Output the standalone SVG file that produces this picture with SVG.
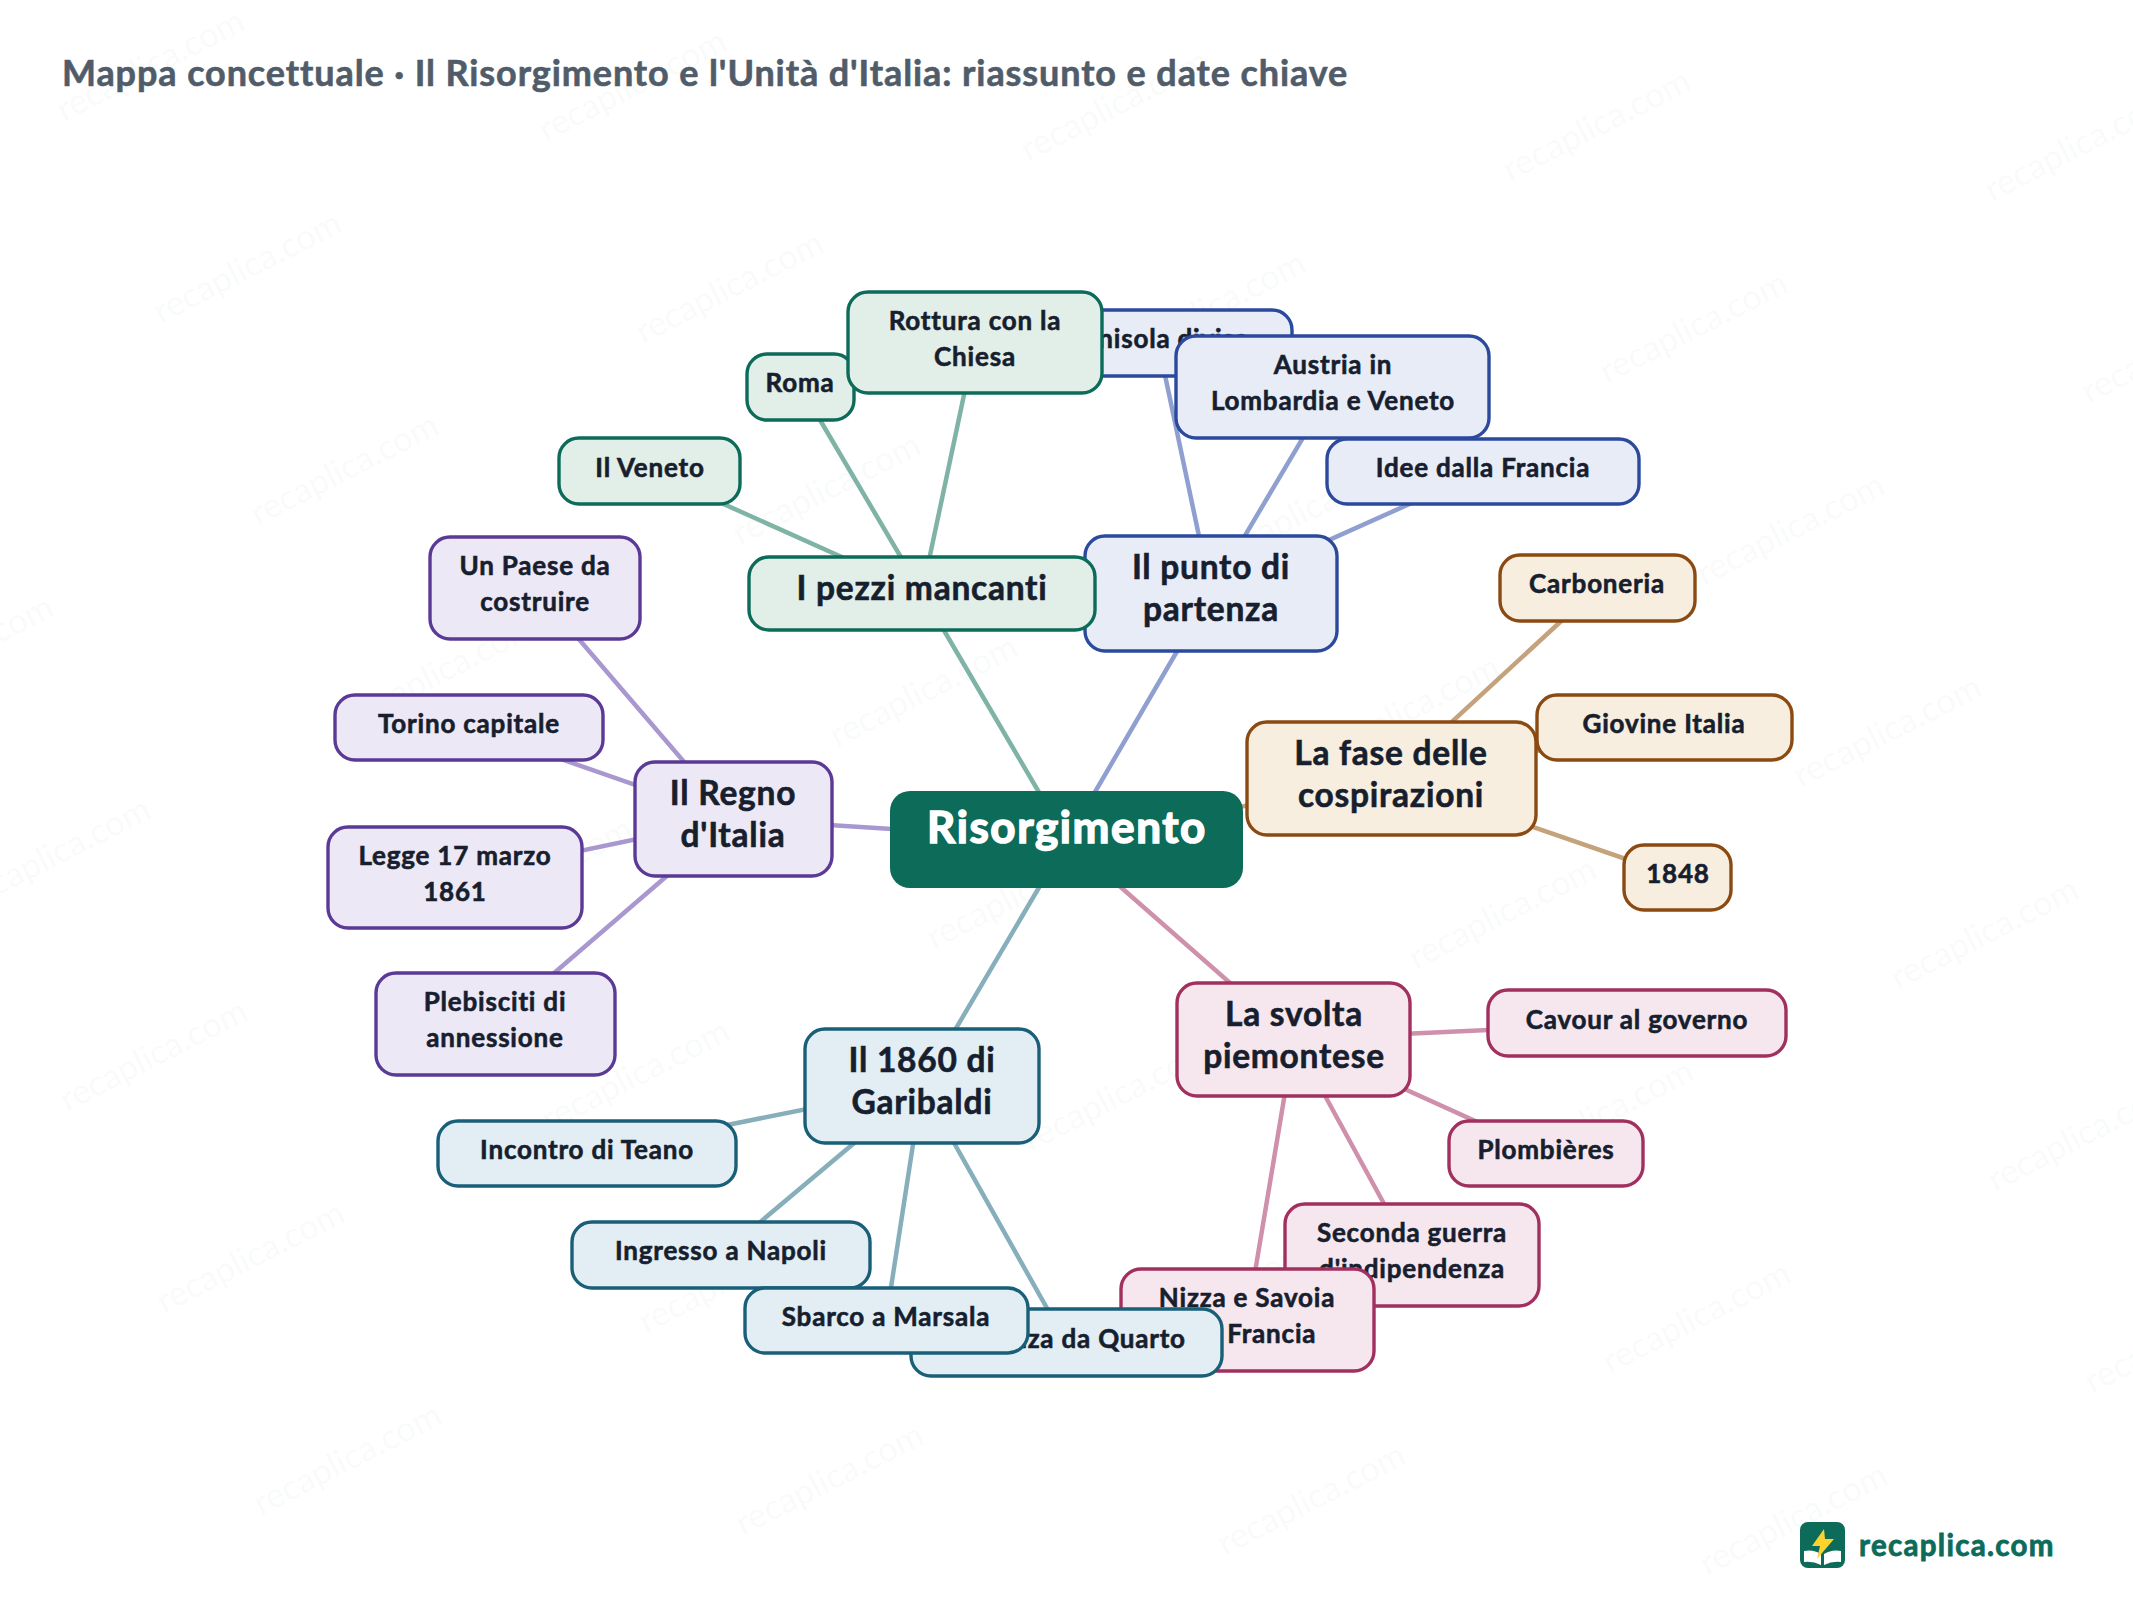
<svg xmlns="http://www.w3.org/2000/svg" width="2133" height="1600" viewBox="0 0 2133 1600">
<style>
text{font-family:"Lato","Noto Sans","Liberation Sans",sans-serif;font-weight:700;fill:#171e2e;text-anchor:middle;transform:translateY(1px)}
.wm{font-size:34.5px;font-weight:400;fill:#5b6b70;fill-opacity:.045;text-anchor:start;transform:none}
.title{font-size:36px;fill:#505c69;text-anchor:start;letter-spacing:.9px;stroke:#505c69;stroke-width:.6px}
.m{font-size:33.5px;letter-spacing:.75px;stroke:#171e2e;stroke-width:.6px}
.s{font-size:26px;letter-spacing:.8px;stroke:#171e2e;stroke-width:.6px}
.c{font-size:44px;letter-spacing:1.6px;fill:#fff;stroke:#fff;stroke-width:1.5px}
rect{stroke-width:3.4}
.green rect{fill:#e1efe8;stroke:#0d6b5a}.blue rect{fill:#e8ecf7;stroke:#2b4a9e}.brown rect{fill:#f7eedf;stroke:#8b4a12}
.pink rect{fill:#f6e7ef;stroke:#a1305f}.teal rect{fill:#e2eef4;stroke:#1a5f78}.purple rect{fill:#ede8f6;stroke:#5b3a96}
#connectors line{stroke-width:4.5;stroke-linecap:round}
.lg{stroke:#7fb3a6}.lb{stroke:#8f9fd0}.lr{stroke:#c4a27c}.lp{stroke:#cf90ac}.lt{stroke:#87aebb}.lv{stroke:#a997d0}
</style>
<rect width="2133" height="1600" fill="#fff" stroke="none"/>
<g id="watermark">
<g transform="translate(64 122) rotate(-27)"><text class="wm">recaplica.com</text></g>
<g transform="translate(546 142) rotate(-27)"><text class="wm">recaplica.com</text></g>
<g transform="translate(1028 162) rotate(-27)"><text class="wm">recaplica.com</text></g>
<g transform="translate(1510 182) rotate(-27)"><text class="wm">recaplica.com</text></g>
<g transform="translate(1992 202) rotate(-27)"><text class="wm">recaplica.com</text></g>
<g transform="translate(161 324) rotate(-27)"><text class="wm">recaplica.com</text></g>
<g transform="translate(643 344) rotate(-27)"><text class="wm">recaplica.com</text></g>
<g transform="translate(1125 364) rotate(-27)"><text class="wm">recaplica.com</text></g>
<g transform="translate(1607 384) rotate(-27)"><text class="wm">recaplica.com</text></g>
<g transform="translate(2089 404) rotate(-27)"><text class="wm">recaplica.com</text></g>
<g transform="translate(258 526) rotate(-27)"><text class="wm">recaplica.com</text></g>
<g transform="translate(740 546) rotate(-27)"><text class="wm">recaplica.com</text></g>
<g transform="translate(1222 566) rotate(-27)"><text class="wm">recaplica.com</text></g>
<g transform="translate(1704 586) rotate(-27)"><text class="wm">recaplica.com</text></g>
<g transform="translate(-127 708) rotate(-27)"><text class="wm">recaplica.com</text></g>
<g transform="translate(355 728) rotate(-27)"><text class="wm">recaplica.com</text></g>
<g transform="translate(837 748) rotate(-27)"><text class="wm">recaplica.com</text></g>
<g transform="translate(1319 768) rotate(-27)"><text class="wm">recaplica.com</text></g>
<g transform="translate(1801 788) rotate(-27)"><text class="wm">recaplica.com</text></g>
<g transform="translate(-30 910) rotate(-27)"><text class="wm">recaplica.com</text></g>
<g transform="translate(452 930) rotate(-27)"><text class="wm">recaplica.com</text></g>
<g transform="translate(934 950) rotate(-27)"><text class="wm">recaplica.com</text></g>
<g transform="translate(1416 970) rotate(-27)"><text class="wm">recaplica.com</text></g>
<g transform="translate(1898 990) rotate(-27)"><text class="wm">recaplica.com</text></g>
<g transform="translate(67 1112) rotate(-27)"><text class="wm">recaplica.com</text></g>
<g transform="translate(549 1132) rotate(-27)"><text class="wm">recaplica.com</text></g>
<g transform="translate(1031 1152) rotate(-27)"><text class="wm">recaplica.com</text></g>
<g transform="translate(1513 1172) rotate(-27)"><text class="wm">recaplica.com</text></g>
<g transform="translate(1995 1192) rotate(-27)"><text class="wm">recaplica.com</text></g>
<g transform="translate(164 1314) rotate(-27)"><text class="wm">recaplica.com</text></g>
<g transform="translate(646 1334) rotate(-27)"><text class="wm">recaplica.com</text></g>
<g transform="translate(1128 1354) rotate(-27)"><text class="wm">recaplica.com</text></g>
<g transform="translate(1610 1374) rotate(-27)"><text class="wm">recaplica.com</text></g>
<g transform="translate(2092 1394) rotate(-27)"><text class="wm">recaplica.com</text></g>
<g transform="translate(261 1516) rotate(-27)"><text class="wm">recaplica.com</text></g>
<g transform="translate(743 1536) rotate(-27)"><text class="wm">recaplica.com</text></g>
<g transform="translate(1225 1556) rotate(-27)"><text class="wm">recaplica.com</text></g>
<g transform="translate(1707 1576) rotate(-27)"><text class="wm">recaplica.com</text></g>
</g>
<text class="title" x="62" y="85">Mappa concettuale · Il Risorgimento e l'Unità d'Italia: riassunto e date chiave</text>
<g id="connectors">
<line class="lb" x1="1067" y1="840" x2="1211" y2="593"/>
<line class="lg" x1="1067" y1="840" x2="922" y2="593"/>
<line class="lr" x1="1067" y1="840" x2="1391" y2="778"/>
<line class="lp" x1="1067" y1="840" x2="1294" y2="1039"/>
<line class="lt" x1="1067" y1="840" x2="922" y2="1086"/>
<line class="lv" x1="1067" y1="840" x2="733" y2="819"/>
<line class="lb" x1="1211" y1="593" x2="1158" y2="342"/>
<line class="lb" x1="1211" y1="593" x2="1333" y2="387"/>
<line class="lb" x1="1211" y1="593" x2="1483" y2="471"/>
<line class="lg" x1="922" y1="593" x2="650" y2="471"/>
<line class="lg" x1="922" y1="593" x2="800" y2="386"/>
<line class="lg" x1="922" y1="593" x2="975" y2="343"/>
<line class="lr" x1="1391" y1="778" x2="1597" y2="588"/>
<line class="lr" x1="1391" y1="778" x2="1664" y2="727"/>
<line class="lr" x1="1391" y1="778" x2="1678" y2="877"/>
<line class="lp" x1="1294" y1="1039" x2="1637" y2="1023"/>
<line class="lp" x1="1294" y1="1039" x2="1546" y2="1153"/>
<line class="lp" x1="1294" y1="1039" x2="1412" y2="1255"/>
<line class="lp" x1="1294" y1="1039" x2="1247" y2="1320"/>
<line class="lt" x1="922" y1="1086" x2="587" y2="1153"/>
<line class="lt" x1="922" y1="1086" x2="721" y2="1255"/>
<line class="lt" x1="922" y1="1086" x2="886" y2="1320"/>
<line class="lt" x1="922" y1="1086" x2="1066" y2="1342"/>
<line class="lv" x1="733" y1="819" x2="535" y2="588"/>
<line class="lv" x1="733" y1="819" x2="469" y2="727"/>
<line class="lv" x1="733" y1="819" x2="455" y2="877"/>
<line class="lv" x1="733" y1="819" x2="495" y2="1024"/>
</g>
<g id="n-centro"><rect x="890" y="791" width="353" height="97" rx="20" fill="#0d6b5a" stroke="none"/><text class="c" x="1067" y="842">Risorgimento</text></g>
<g id="n-punto" class="blue"><rect x="1085" y="536" width="252" height="115" rx="20"/><text class="m" x="1211" y="578">Il punto di</text><text class="m" x="1211" y="620">partenza</text></g>
<g id="n-penisola" class="blue"><rect x="1024" y="310" width="268" height="66" rx="20"/><text class="s" x="1158" y="347">Penisola divisa</text></g>
<g id="n-austria" class="blue"><rect x="1176" y="336" width="313" height="102" rx="20"/><text class="s" x="1333" y="373">Austria in</text><text class="s" x="1333" y="409">Lombardia e Veneto</text></g>
<g id="n-idee" class="blue"><rect x="1327" y="439" width="312" height="65" rx="20"/><text class="s" x="1483" y="476">Idee dalla Francia</text></g>
<g id="n-fase" class="brown"><rect x="1247" y="722" width="289" height="113" rx="20"/><text class="m" x="1391" y="764">La fase delle</text><text class="m" x="1391" y="806">cospirazioni</text></g>
<g id="n-carboneria" class="brown"><rect x="1500" y="555" width="195" height="66" rx="20"/><text class="s" x="1597" y="592">Carboneria</text></g>
<g id="n-giovine" class="brown"><rect x="1537" y="695" width="255" height="65" rx="20"/><text class="s" x="1664" y="732">Giovine Italia</text></g>
<g id="n-1848" class="brown"><rect x="1624" y="845" width="107" height="65" rx="20"/><text class="s" x="1678" y="882">1848</text></g>
<g id="n-svolta" class="pink"><rect x="1177" y="983" width="233" height="113" rx="20"/><text class="m" x="1294" y="1025">La svolta</text><text class="m" x="1294" y="1067">piemontese</text></g>
<g id="n-cavour" class="pink"><rect x="1488" y="990" width="298" height="66" rx="20"/><text class="s" x="1637" y="1028">Cavour al governo</text></g>
<g id="n-plombieres" class="pink"><rect x="1449" y="1121" width="194" height="65" rx="20"/><text class="s" x="1546" y="1158">Plombières</text></g>
<g id="n-seconda" class="pink"><rect x="1285" y="1204" width="254" height="102" rx="20"/><text class="s" x="1412" y="1241">Seconda guerra</text><text class="s" x="1412" y="1277">d'indipendenza</text></g>
<g id="n-nizza" class="pink"><rect x="1121" y="1269" width="253" height="102" rx="20"/><text class="s" x="1247" y="1306">Nizza e Savoia</text><text class="s" x="1247" y="1342">alla Francia</text></g>
<g id="n-1860" class="teal"><rect x="805" y="1029" width="234" height="114" rx="20"/><text class="m" x="922" y="1071">Il 1860 di</text><text class="m" x="922" y="1113">Garibaldi</text></g>
<g id="n-partenza" class="teal"><rect x="911" y="1309" width="311" height="67" rx="20"/><text class="s" x="1066" y="1347">Partenza da Quarto</text></g>
<g id="n-ingresso" class="teal"><rect x="572" y="1222" width="298" height="66" rx="20"/><text class="s" x="721" y="1259">Ingresso a Napoli</text></g>
<g id="n-sbarco" class="teal"><rect x="745" y="1288" width="283" height="65" rx="20"/><text class="s" x="886" y="1325">Sbarco a Marsala</text></g>
<g id="n-incontro" class="teal"><rect x="438" y="1121" width="298" height="65" rx="20"/><text class="s" x="587" y="1158">Incontro di Teano</text></g>
<g id="n-regno" class="purple"><rect x="635" y="762" width="197" height="114" rx="20"/><text class="m" x="733" y="804">Il Regno</text><text class="m" x="733" y="846">d'Italia</text></g>
<g id="n-paese" class="purple"><rect x="430" y="537" width="210" height="102" rx="20"/><text class="s" x="535" y="574">Un Paese da</text><text class="s" x="535" y="610">costruire</text></g>
<g id="n-torino" class="purple"><rect x="335" y="695" width="268" height="65" rx="20"/><text class="s" x="469" y="732">Torino capitale</text></g>
<g id="n-legge" class="purple"><rect x="328" y="827" width="254" height="101" rx="20"/><text class="s" x="455" y="864">Legge 17 marzo</text><text class="s" x="455" y="900">1861</text></g>
<g id="n-plebisciti" class="purple"><rect x="376" y="973" width="239" height="102" rx="20"/><text class="s" x="495" y="1010">Plebisciti di</text><text class="s" x="495" y="1046">annessione</text></g>
<g id="n-pezzi" class="green"><rect x="749" y="557" width="346" height="73" rx="20"/><text class="m" x="922" y="599">I pezzi mancanti</text></g>
<g id="n-veneto" class="green"><rect x="559" y="438" width="181" height="66" rx="20"/><text class="s" x="650" y="476">Il Veneto</text></g>
<g id="n-roma" class="green"><rect x="747" y="354" width="107" height="66" rx="20"/><text class="s" x="800" y="391">Roma</text></g>
<g id="n-rottura" class="green"><rect x="848" y="292" width="254" height="101" rx="20"/><text class="s" x="975" y="329">Rottura con la</text><text class="s" x="975" y="365">Chiesa</text></g>
<g id="logo">
<rect x="1800" y="1522" width="45" height="46" rx="8" fill="#0d6b5a" stroke="none"/>
<path d="M1804 1551q9-2 17 3v11q-8-4-17-3zM1841 1551q-9-2-17 3v11q8-4 17-3z" fill="#fff"/>
<path d="M1824 1529l-12 17h8l-3 13 17-20h-9z" fill="#fcd32e"/>
<text x="1859" y="1555" style="font-size:29.5px;fill:#0d6b5a;stroke:#0d6b5a;stroke-width:.8px;letter-spacing:1.3px;text-anchor:start">recaplica.com</text>
</g>
</svg>
